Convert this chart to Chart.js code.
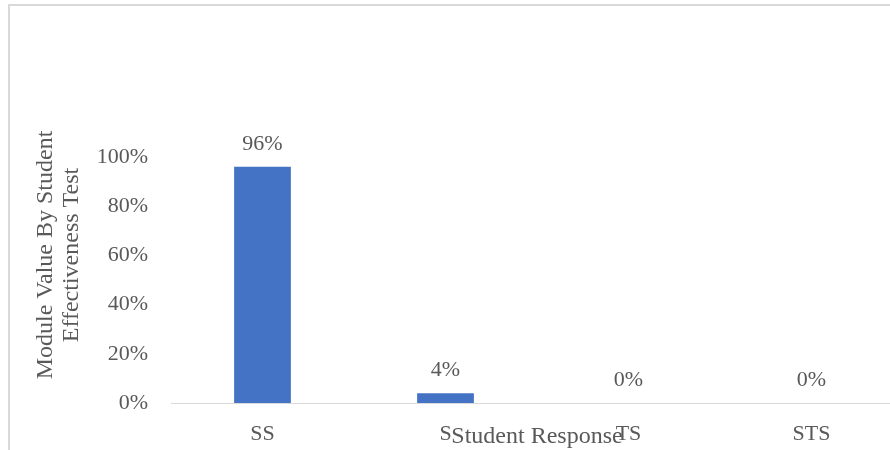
<!DOCTYPE html>
<html>
<head>
<meta charset="utf-8">
<script src="https://cdn.jsdelivr.net/npm/chart.js@4"></script>
<style>
body { margin: 0; overflow: hidden; background: #fff; }
#frame { position: absolute; left: 8px; top: 4px; width: 1000px; height: 1000px; border-top: 2px solid #d9d9d9; border-left: 2px solid #d9d9d9; }
#wrap { position: absolute; left: 0; top: 0; width: 910px; height: 450px; }
</style>
</head>
<body>
<div id="frame"></div>
<div id="wrap"><canvas id="responseChart"></canvas></div>
<script>
const categories = ['SS', 'S', 'TS', 'STS'];
const responseValues = [96, 4, 0, 0];
const yTicks = [0, 20, 40, 60, 80, 100];
const yTitle = ['Module Value By Student', 'Effectiveness Test'];
const xTitle = 'Student Response';

const serif = '"Liberation Serif", "Times New Roman", serif';
const grey = '#595959';

// value labels over the bars, plus both axis titles (excel puts them in odd spots)
const labelPlugin = {
    id: 'labels',
    afterDatasetsDraw(chart) {
        const ctx = chart.ctx;
        const area = chart.chartArea;
        ctx.save();
        ctx.fillStyle = grey;
        ctx.textAlign = 'center';
        ctx.textBaseline = 'middle';
        ctx.font = '22px ' + serif;
        chart.getDatasetMeta(0).data.forEach((bar, i) => {
            ctx.fillText(responseValues[i] + '%', bar.x, bar.y - 23);
        });
        ctx.font = '24px ' + serif;
        ctx.fillText(xTitle, (area.left + area.right) / 2, area.bottom + 34);
        ctx.translate(46, 255);
        ctx.rotate(-Math.PI / 2);
        yTitle.forEach((line, i) => ctx.fillText(line, 0, i * 26));
        ctx.restore();
    }
};

const chartConfig = {
    type: 'bar',
    data: {
        labels: categories,
        datasets: [{
            data: responseValues,
            backgroundColor: '#4472C4',
            barPercentage: 0.31,
            categoryPercentage: 1
        }]
    },
    options: {
        responsive: true,
        maintainAspectRatio: false,
        animation: false,
        layout: { padding: { top: 157, right: 7, bottom: 0, left: 0 } },
        scales: {
            x: {
                grid: { display: false },
                border: { color: '#d9d9d9', width: 1 },
                ticks: { color: grey, font: { family: serif, size: 22 }, padding: 10 },
                afterFit: s => { s.height = 47; }
            },
            y: {
                min: 0,
                max: 100,
                grid: { display: false },
                border: { display: false },
                afterBuildTicks: s => { s.ticks = yTicks.map(v => ({ value: v })); },
                ticks: {
                    color: grey,
                    font: { family: serif, size: 22 },
                    padding: 15,
                    callback: v => v + '%'
                },
                afterFit: s => { s.width = 171; }
            }
        },
        plugins: {
            legend: { display: false },
            tooltip: { enabled: false }
        }
    },
    plugins: [labelPlugin]
};

new Chart(document.getElementById('responseChart'), chartConfig);
</script>
</body>
</html>
